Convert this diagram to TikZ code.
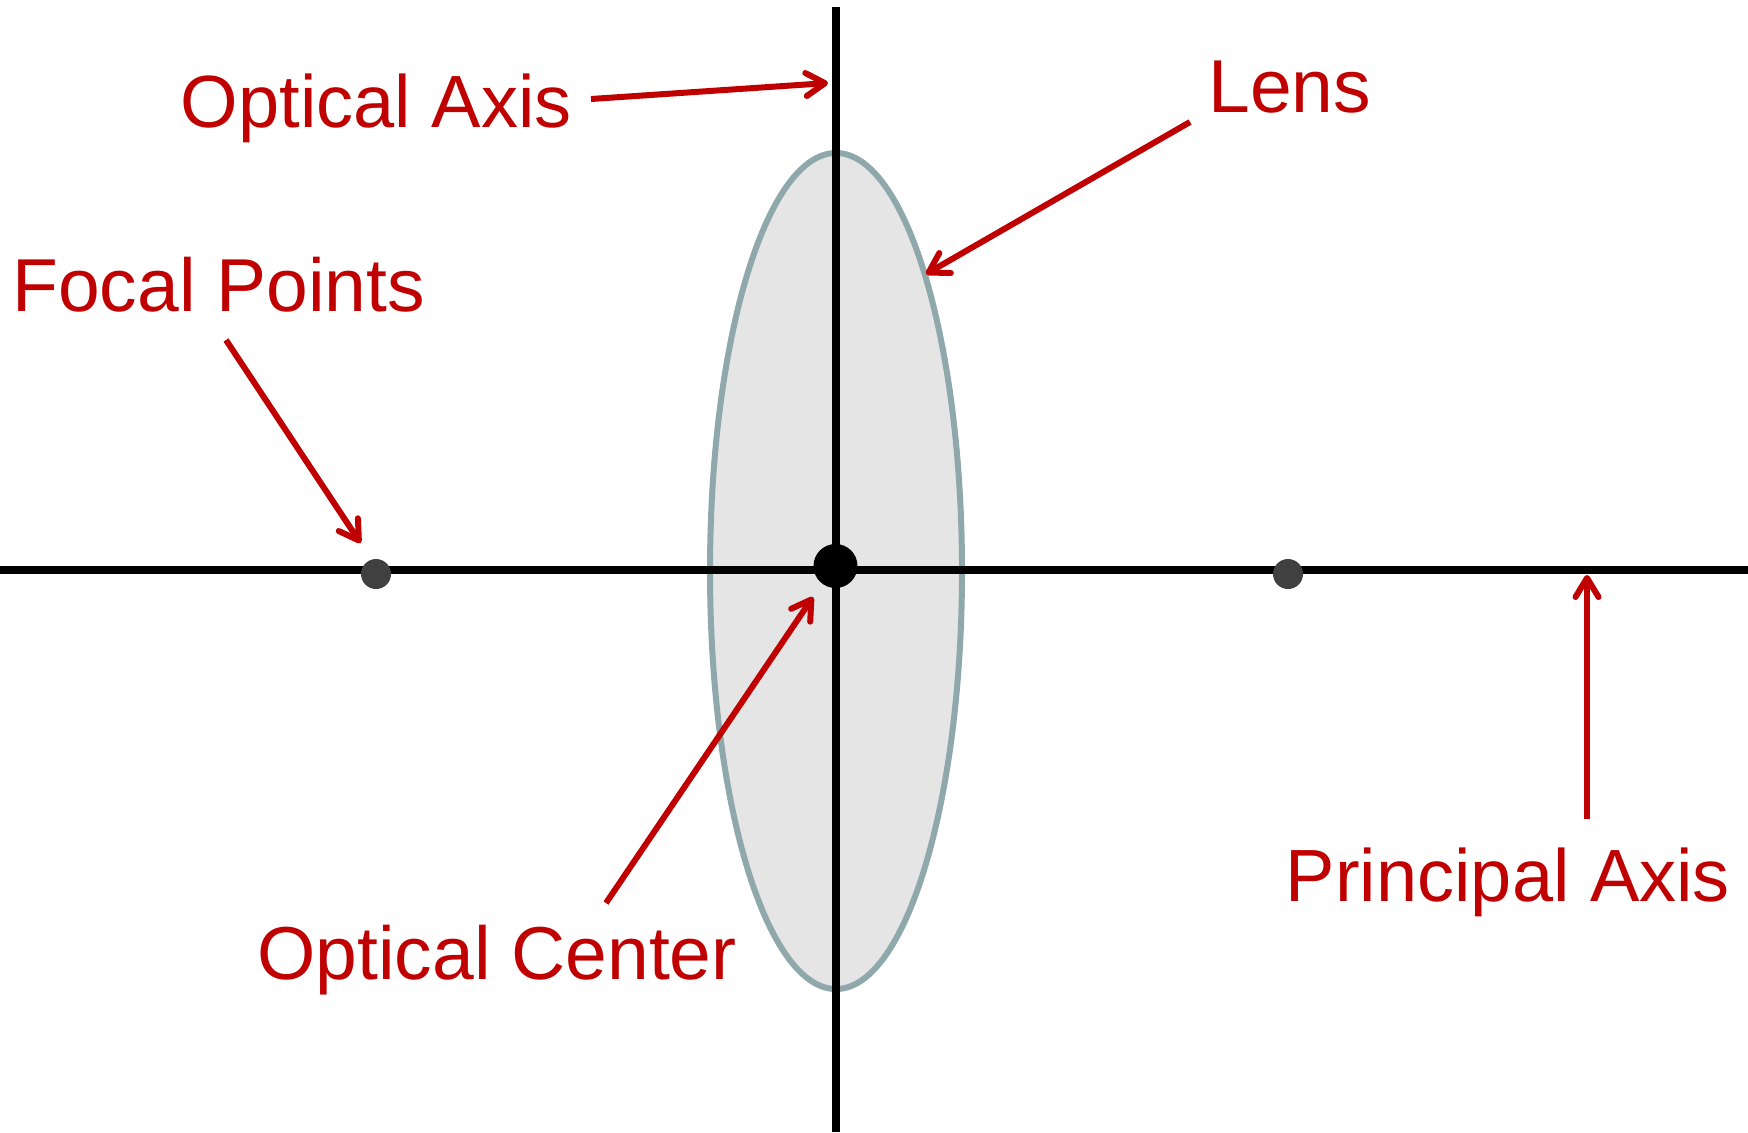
\documentclass[tikz,border=0pt]{standalone}
\usepackage{fontspec}
\setmainfont{Liberation Sans}
\usetikzlibrary{arrows.meta}
\definecolor{lensfill}{HTML}{E5E5E5}
\definecolor{lensedge}{HTML}{8FA8AB}
\definecolor{labelred}{HTML}{C00000}
\definecolor{focaldot}{HTML}{404040}
\tikzset{
  x=0.5pt,y=-0.5pt,
  axisline/.style={draw=black,line width=4.2pt},
  lensshape/.style={draw=lensedge,fill=lensfill,line width=3pt},
  pointer/.style={draw=labelred,line width=3pt,-{Straight Barb[length=9.5pt,width=11.5pt,round,line width=3pt]}},
  lbl/.style={text=labelred,anchor=base west,inner sep=0pt,font=\fontsize{37pt}{44pt}\selectfont},
  lblb/.style={lbl,font=\fontsize{37.5pt}{44pt}\selectfont},
  centredot/.style={circle,fill=black,minimum size=22pt,inner sep=0pt},
  fdot/.style={circle,fill=focaldot,minimum size=15pt,inner sep=0pt}
}
\begin{document}
\begin{tikzpicture}
\useasboundingbox (0,0) rectangle (1748,1132);
\draw[lensshape] (836,571) ellipse [x radius=126,y radius=418];
\coordinate (vtop) at (836,7);
\coordinate (vbot) at (836,1132);
\coordinate (hleft) at (0,570);
\coordinate (hright) at (1748,570);
\draw[axisline] (vtop) -- (vbot);
\draw[axisline] (hleft) -- (hright);
\node[centredot] (oc) at (835.5,566) {};
\node[fdot] (f1) at (376,574) {};
\node[fdot] (f2) at (1288,574) {};
\node[lbl] (loa) at (180.5,127) {Optical Axis};
\node[lblb] (lle) at (1208,112) {Lens};
\node[lblb] (lfp) at (12,311.5) {Focal Points};
\node[lblb] (loc) at (257,979) {Optical Center};
\node[lbl] (lpa) at (1285.5,901.5) {Principal Axis};
\coordinate (aoa0) at (591,99);  \coordinate (aoa1) at (828,83);
\coordinate (ale0) at (1190,122);\coordinate (ale1) at (926,274);
\coordinate (afp0) at (226,340); \coordinate (afp1) at (360.5,543);
\coordinate (aoc0) at (606,903); \coordinate (aoc1) at (813,597);
\coordinate (apa0) at (1587,819);\coordinate (apa1) at (1587,575);
\draw[pointer] (aoa0) -- (aoa1);
\draw[pointer] (ale0) -- (ale1);
\draw[pointer] (afp0) -- (afp1);
\draw[pointer] (aoc0) -- (aoc1);
\draw[pointer] (apa0) -- (apa1);
\end{tikzpicture}
\end{document}
